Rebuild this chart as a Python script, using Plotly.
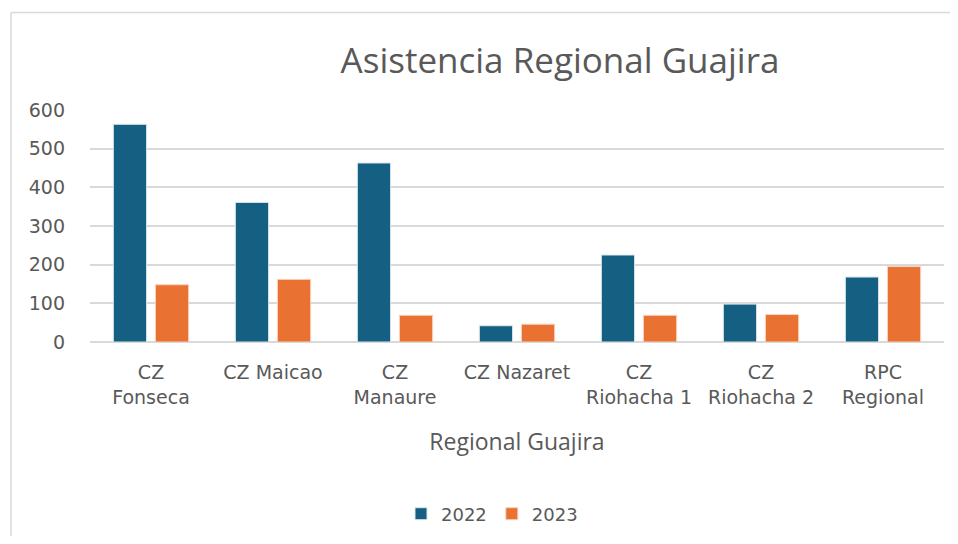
import plotly.graph_objects as go

categories = ["CZ Fonseca", "CZ Maicao", "CZ Manaure", "CZ Nazaret",
              "CZ Riohacha 1", "CZ Riohacha 2", "RPC Regional"]
tick_labels = ["CZ<br>Fonseca", "CZ Maicao", "CZ<br>Manaure", "CZ Nazaret",
               "CZ<br>Riohacha 1", "CZ<br>Riohacha 2", "RPC<br>Regional"]
values_2022 = [563, 361, 463, 42, 225, 98, 168]
values_2023 = [148, 162, 69, 46, 69, 71, 195]
y_ticks = [0, 100, 200, 300, 400, 500, 600]

# page has an 8px body margin; work in target (screen) coords and shift
OFF = 8
W, H = 958 - 2 * OFF, 544 - 2 * OFF
FONT = "Open Sans"
TICKFONT = "DejaVu Sans"
GRAY = "#595959"

def fx(x):
    return x - OFF

L, R, T, B = fx(90), fx(944), fx(110), fx(343)

def px(x):
    return (fx(x) - L) / (R - L)

def py(y):
    return (B - fx(y)) / (B - T)

fig = go.Figure()
fig.add_trace(go.Bar(name="2022", x=categories, y=values_2022,
                     marker=dict(color="#156082", line=dict(color="#dbe6ec", width=1))))
fig.add_trace(go.Bar(name="2023", x=categories, y=values_2023,
                     marker=dict(color="#E97132", line=dict(color="#f7d3bf", width=1))))

fig.update_layout(
    width=W, height=H,
    margin=dict(l=L, r=W - R, t=T, b=H - B),
    paper_bgcolor="white", plot_bgcolor="white",
    barmode="group", bargap=0.31, bargroupgap=0.21,
    font=dict(family=FONT, color=GRAY, size=18),
    showlegend=True,
    legend=dict(orientation="h", x=px(492), xanchor="center",
                y=py(514), yanchor="middle",
                font=dict(size=18, color=GRAY, family=TICKFONT), itemwidth=30,
                traceorder="normal"),
    xaxis=dict(tickmode="array", tickvals=categories, ticktext=tick_labels,
               showgrid=False, showline=False, ticks="",
               tickfont=dict(size=19, color=GRAY, family=TICKFONT),
               ticklabelstandoff=17,
               title=dict(text="Regional Guajira", font=dict(size=23, color=GRAY),
                          standoff=27)),
    yaxis=dict(range=[0, 600], tickvals=y_ticks, showgrid=True,
               gridcolor="#d9d9d9", gridwidth=1.5, zeroline=True,
               zerolinecolor="#d9d9d9", zerolinewidth=1.5,
               tickfont=dict(size=19, color=GRAY, family=TICKFONT), ticks="",
               ticklabelstandoff=24),
    title=dict(text="Asistencia Regional Guajira", x=fx(560) / W, xanchor="center",
               y=1 - fx(61) / H, yanchor="middle",
               font=dict(size=35, color=GRAY, family=FONT)),
)

fig.add_shape(type="line", xref="paper", yref="paper",
              x0=px(11), x1=px(950), y0=py(12), y1=py(12),
              line=dict(color="#d9d9d9", width=1.5))
fig.add_shape(type="line", xref="paper", yref="paper",
              x0=px(11), x1=px(11), y0=py(12), y1=py(544),
              line=dict(color="#d9d9d9", width=1.5))

fig.write_html("out.html", config={"displayModeBar": False})
